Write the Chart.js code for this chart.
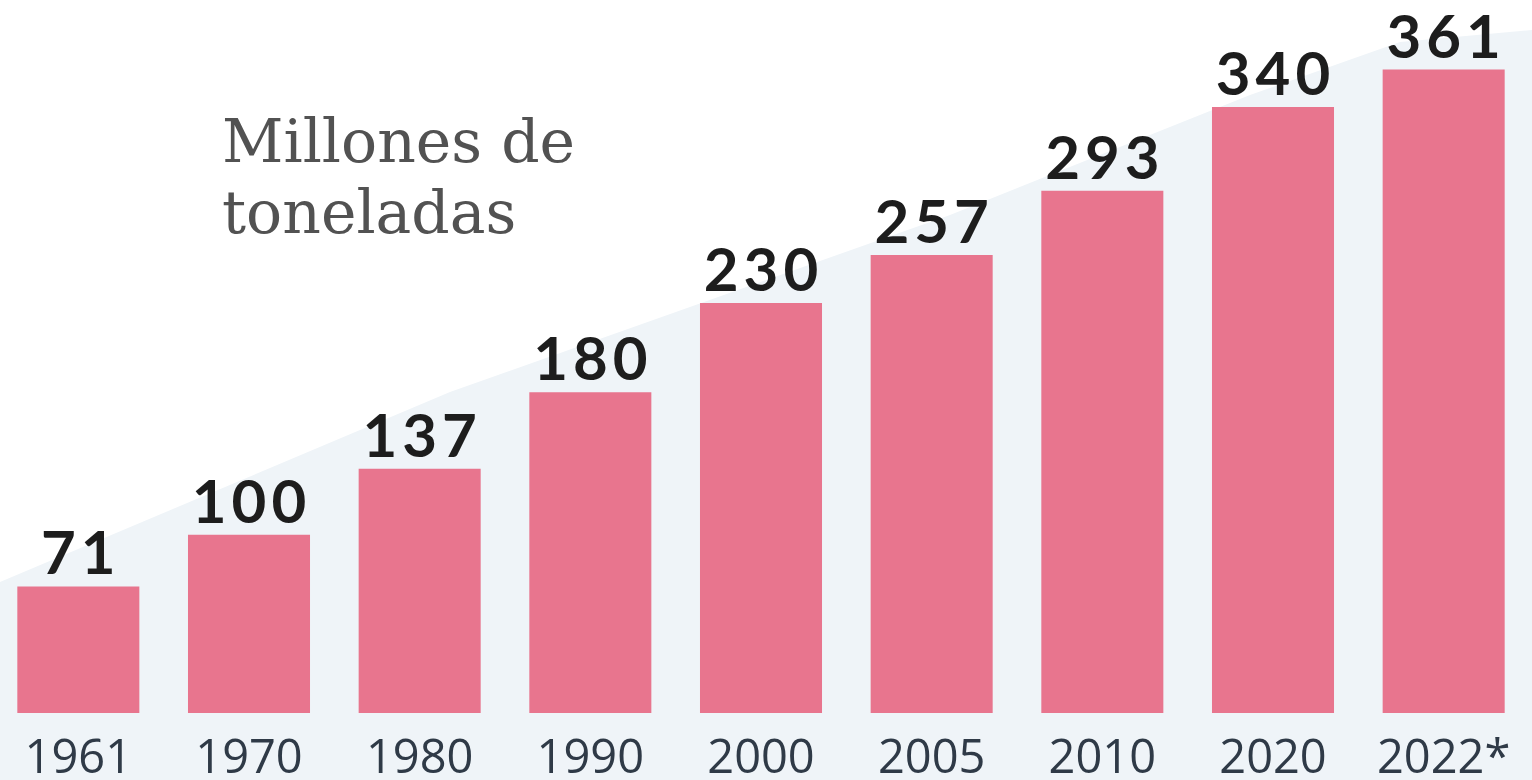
<!DOCTYPE html>
<html>
<head>
<meta charset="utf-8">
<script src="https://cdn.jsdelivr.net/npm/chart.js@4.4.0/dist/chart.umd.min.js"></script>
<style>
  html, body { margin: 0; padding: 0; background: #fff; overflow: hidden; }
  body { width: 1532px; height: 780px; position: relative; }
  .shade {
    position: absolute; left: 0; top: 0; width: 1532px; height: 780px;
    background: #eff4f8;
    clip-path: polygon(0 582px, 450px 392px, 950px 215px, 1250px 95px, 1400px 42px, 1532px 30px, 1532px 780px, 0 780px);
  }
  .title {
    position: absolute; left: 222px; top: 106px;
    font-family: "DejaVu Serif", serif; font-size: 60px; line-height: 71px;
    color: #525252;
  }
  .wrap { position: absolute; left: -7px; top: 0; width: 1543px; height: 780px; }
</style>
</head>
<body>
<div class="shade"></div>
<div class="title">Millones de<br>toneladas</div>
<div class="wrap"><canvas id="chart"></canvas></div>
<script>
// years shown under the bars
const years = ['1961', '1970', '1980', '1990', '2000', '2005', '2010', '2020', '2022*'];
// millions of tonnes
const tonnes = [71, 100, 137, 180, 230, 257, 293, 340, 361];

const barColor = '#e8758e';

// draws the value above each bar
const valueLabels = {
    id: 'valueLabels',
    afterDatasetsDraw(chart) {
        const ctx = chart.ctx;
        const meta = chart.getDatasetMeta(0);
        ctx.save();
        ctx.font = 'bold 60px Lato, sans-serif';
        ctx.fillStyle = '#1d1d1d';
        ctx.textAlign = 'center';
        ctx.textBaseline = 'alphabetic';
        ctx.letterSpacing = '5px';
        meta.data.forEach((bar, i) => {
            ctx.fillText(String(tonnes[i]), bar.x + 2.5, bar.y - 12);
        });
        ctx.restore();
    }
};

const ctx = document.getElementById('chart').getContext('2d');
new Chart(ctx, {
    type: 'bar',
    data: {
        labels: years,
        datasets: [{
            data: tonnes,
            backgroundColor: barColor,
            borderWidth: 0,
            categoryPercentage: 0.715,
            barPercentage: 1
        }]
    },
    options: {
        responsive: true,
        maintainAspectRatio: false,
        animation: false,
        layout: { padding: { left: 0, right: 7, top: 0, bottom: 0 } },
        plugins: {
            legend: { display: false },
            tooltip: { enabled: false }
        },
        scales: {
            x: {
                grid: { display: false, drawTicks: false },
                border: { display: false },
                ticks: {
                    color: '#2f3a47',
                    font: { family: '"Open Sans", sans-serif', size: 47 },
                    padding: 18,
                    maxRotation: 0
                },
                afterFit(scale) { scale.height = 67; }
            },
            y: {
                display: false,
                min: 0,
                max: 400
            }
        }
    },
    plugins: [valueLabels]
});
</script>
</body>
</html>
